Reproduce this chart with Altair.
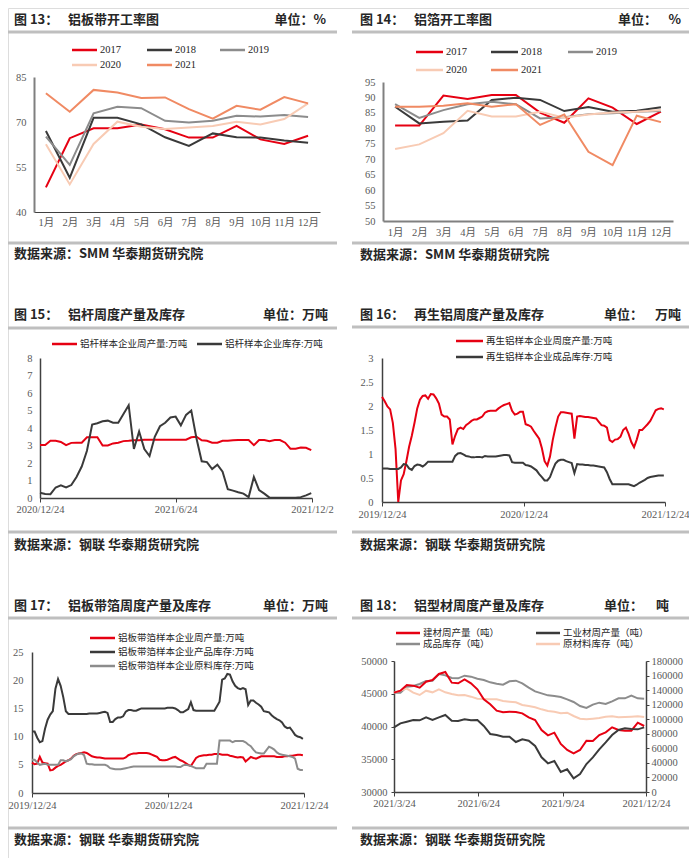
import altair as alt
import pandas as pd

# ---------------- data ----------------
months = list(range(1, 13))
years = ["2017", "2018", "2019", "2020", "2021"]

p13_2017 = [48.2, 64.6, 67.9, 67.9, 69.2, 67.6, 64.8, 64.8, 68.7, 64.2, 62.7, 65.4]
p13_2018 = [67.0, 51.4, 71.4, 71.4, 69.2, 64.9, 62.0, 66.2, 64.9, 64.8, 63.8, 63.1]
p13_2019 = [65.1, 55.7, 72.9, 75.1, 74.6, 70.4, 69.8, 70.4, 72.1, 71.8, 72.3, 71.7]
p13_2020 = [62.6, 49.2, 62.7, 70.1, 68.4, 67.7, 68.2, 68.7, 70.1, 69.2, 71.0, 76.2]
p13_2021 = [79.6, 73.4, 80.7, 79.8, 78.0, 78.2, 74.3, 71.1, 75.4, 74.1, 78.3, 76.2]

p14_2017 = [80.9, 80.9, 90.6, 89.5, 90.8, 90.8, 85.1, 81.8, 89.7, 86.7, 81.4, 85.4]
p14_2018 = [87.0, 81.6, 82.1, 82.5, 89.2, 89.9, 89.2, 85.6, 86.9, 85.4, 85.7, 86.8]
p14_2019 = [87.8, 83.4, 85.9, 87.8, 88.6, 87.8, 83.2, 83.6, 84.6, 84.9, 85.4, 85.6]
p14_2020 = [73.3, 74.8, 78.4, 85.7, 83.8, 83.8, 85.4, 83.4, 84.5, 85.1, 85.4, 85.9]
p14_2021 = [87.0, 87.0, 87.3, 88.1, 87.0, 87.8, 81.1, 84.5, 72.4, 68.1, 84.1, 82.0]

# 图15 weekly from 2020-12-24
p15_start = "2020-12-24"
p15_names = ["铝杆样本企业周产量:万吨", "铝杆样本企业库存:万吨"]
p15_prod = [3.03, 3.03, 3.27, 3.27, 3.2, 3.02, 3.15, 3.16, 3.16, 3.47,
            3.47, 3.47, 3.0, 3.0, 3.12, 3.16, 3.25, 3.27, 3.3, 3.3,
            3.33, 3.33, 3.33, 3.33, 3.33, 3.33, 3.33, 3.33, 3.33, 3.47,
            3.5, 3.3, 3.27, 3.16, 3.16, 3.27, 3.27, 3.3, 3.31, 3.31,
            3.31, 3.02, 3.31, 3.31, 3.25, 3.31, 3.31, 3.16, 2.82, 2.82,
            2.88, 2.87, 2.74]
p15_inv = [0.30, 0.23, 0.22, 0.60, 0.72, 0.60, 0.74, 1.2, 1.8, 2.7,
           4.2, 4.27, 4.38, 4.42, 4.30, 4.30, 4.8, 5.3, 2.8, 3.8,
           2.8, 2.4, 3.5, 4.1, 4.3, 4.6, 4.65, 4.15, 4.75, 5.0,
           3.4, 2.1, 2.05, 1.65, 1.9, 1.5, 0.5, 0.42, 0.33, 0.25,
           0.05, 1.2, 0.45, 0.25, 0.02, 0.02, 0.02, 0.02, 0.02, 0.02,
           0.05, 0.15, 0.28]

# 图16 weekly from 2019-12-24
p16_start = "2019-12-24"
p16_names = ["再生铝样本企业周度产量:万吨", "再生铝样本企业成品库存:万吨"]
p16_prod = [2.19, 2.10, 1.99, 1.93, 1.65, 1.10, 0.0, 0.45, 0.58, 0.85,
            1.15, 1.38, 1.65, 1.95, 2.13, 2.21, 2.22, 2.15, 2.25, 2.24,
            2.16, 2.05, 1.82, 1.78, 1.78, 1.72, 1.20, 1.38, 1.52, 1.55,
            1.52, 1.60, 1.64, 1.69, 1.72, 1.72, 1.75, 1.78, 1.86, 1.89,
            1.90, 1.90, 1.90, 1.95, 1.99, 2.02, 2.04, 2.06, 1.90, 1.82,
            1.84, 1.88, 1.88, 1.62, 1.60, 1.57, 1.48, 1.40, 1.32, 1.12,
            0.85, 0.76, 0.95, 1.29, 1.55, 1.78, 1.87, 1.87, 1.86, 1.85,
            1.84, 1.32, 1.78, 1.79, 1.78, 1.77, 1.77, 1.76, 1.75, 1.74,
            1.67, 1.60, 1.59, 1.55, 1.29, 1.25, 1.30, 1.31, 1.36, 1.50,
            1.55, 1.42, 1.25, 1.14, 1.30, 1.50, 1.50, 1.56, 1.62, 1.69,
            1.80, 1.91, 1.94, 1.95, 1.93]
p16_inv = [0.70, 0.70, 0.70, 0.69, 0.69, 0.69, 0.69, 0.72, 0.79, 0.78,
           0.70, 0.67, 0.75, 0.78, 0.77, 0.74, 0.78, 0.84, 0.84, 0.84,
           0.84, 0.84, 0.84, 0.84, 0.84, 0.84, 0.84, 0.96, 1.01, 1.02,
           0.99, 0.96, 0.95, 0.93, 0.93, 0.94, 0.94, 0.93, 0.96, 0.95,
           0.95, 0.95, 0.95, 0.96, 0.97, 0.98, 0.98, 0.97, 0.83, 0.82,
           0.82, 0.82, 0.82, 0.77, 0.76, 0.74, 0.70, 0.66, 0.58, 0.52,
           0.45, 0.45, 0.52, 0.67, 0.80, 0.86, 0.88, 0.88, 0.85, 0.83,
           0.81, 0.60, 0.79, 0.78, 0.78, 0.77, 0.77, 0.76, 0.76, 0.75,
           0.74, 0.73, 0.72, 0.62, 0.48, 0.37, 0.37, 0.37, 0.37, 0.37,
           0.37, 0.37, 0.35, 0.33, 0.36, 0.40, 0.43, 0.46, 0.50, 0.52,
           0.53, 0.54, 0.55, 0.55, 0.55]

# 图17 weekly from 2019-12-24
p17_start = "2019-12-24"
p17_names = ["铝板带箔样本企业周产量:万吨", "铝板带箔样本企业产品库存:万吨", "铝板带箔样本企业原料库存:万吨"]
p17_prod = [5.4, 5.1, 5.2, 6.4, 5.4, 5.3, 5.2, 4.0, 4.1, 4.5,
            4.8, 5.0, 5.3, 5.6, 5.8, 6.1, 6.6, 6.9, 7.0, 7.1,
            7.2, 7.1, 6.8, 6.5, 6.4, 6.3, 6.3, 6.2, 6.1, 6.1,
            6.1, 6.1, 6.1, 6.1, 6.1, 6.1, 6.3, 6.7, 6.9, 7.0,
            7.0, 7.1, 7.1, 7.1, 7.1, 7.0, 6.8, 6.6, 6.4, 5.9,
            5.8, 5.8, 5.9, 6.1, 6.3, 6.4, 6.1, 5.8, 5.6, 5.3,
            5.0, 4.8, 5.5, 6.2, 6.5, 6.6, 6.7, 6.7, 6.8, 6.8,
            6.9, 6.9, 6.9, 6.8, 6.8, 6.8, 6.6, 6.5, 6.4, 6.3,
            6.4, 6.3, 5.6, 6.0, 6.4, 6.2, 6.1, 6.3, 6.5, 6.5,
            6.5, 6.5, 6.5, 6.5, 6.4, 6.4, 6.4, 6.5, 6.5, 6.6,
            6.6, 6.7, 6.8, 6.8, 6.7]
p17_prodinv = [10.9, 10.9, 9.8, 9.0, 9.2, 11.4, 13.0, 13.9, 14.5, 18.5,
               20.2, 19.0, 17.0, 14.5, 14.0, 14.0, 14.0, 14.0, 14.0, 14.0,
               14.0, 14.0, 14.1, 14.1, 14.1, 14.1, 14.2, 14.3, 14.4, 14.2,
               12.6, 12.6, 13.1, 13.4, 13.4, 13.6, 14.4, 14.7, 14.7, 14.6,
               14.6, 14.8, 15.0, 15.0, 15.0, 15.0, 15.0, 15.0, 15.0, 15.0,
               15.0, 15.0, 15.1, 15.1, 15.1, 15.0, 14.7, 14.3, 14.3, 14.6,
               14.9, 16.1, 14.7, 14.6, 14.6, 14.6, 14.6, 14.6, 14.6, 14.6,
               14.6, 15.4, 16.2, 20.1, 20.3, 21.1, 21.0, 19.8, 19.0, 18.6,
               18.4, 18.6, 18.4, 15.6, 16.4, 16.4, 16.0, 15.7, 15.3, 14.5,
               14.4, 14.3, 13.8, 13.4, 13.1, 12.9, 12.5, 11.8, 11.5, 11.6,
               11.0, 10.3, 10.0, 9.9, 9.6]
p17_rawinv = [5.9, 5.9, 5.4, 5.0, 5.1, 5.2, 5.0, 5.0, 5.0, 5.0,
              5.0, 5.8, 5.8, 5.6, 5.8, 6.0, 6.5, 6.8, 7.0, 7.0,
              6.7, 5.2, 5.1, 5.1, 5.0, 5.0, 5.0, 5.0, 5.0, 4.8,
              4.4, 4.3, 4.2, 4.2, 4.2, 4.3, 4.4, 4.5, 4.6, 4.7,
              4.7, 4.7, 4.7, 4.7, 4.7, 4.7, 4.7, 4.7, 4.7, 4.7,
              4.7, 4.7, 4.7, 4.7, 4.7, 4.7, 4.6, 4.6, 4.9, 5.0,
              4.9, 4.8, 4.6, 4.4, 4.4, 4.4, 4.4, 5.2, 5.2, 5.2,
              5.2, 5.2, 9.3, 9.3, 9.3, 9.3, 9.3, 9.0, 9.2, 9.2,
              9.2, 9.2, 9.0, 8.6, 8.3, 7.7, 7.2, 7.1, 7.0, 7.0,
              7.6, 8.2, 8.0, 7.7, 7.2, 6.9, 6.8, 6.7, 6.6, 6.5,
              6.4, 6.1, 4.3, 4.1, 4.1]

# 图18 weekly from 2021-03-24
p18_start = "2021-03-24"
p18_left_names = ["建材周产量（吨）", "工业材周产量（吨）"]
p18_right_names = ["成品库存（吨）", "原材料库存（吨）"]
p18_jc = [45165, 45470, 46336, 46234, 45929, 46845, 47099, 48015, 48320, 46692,
          46590, 47201, 46590, 45674, 44147, 43384, 42417, 42163, 42265, 42214,
          42010, 41400, 40993, 39466, 38652, 39059, 37329, 36413, 35904, 36413,
          37838, 37787, 38703, 39110, 39873, 39466, 39364, 39364, 40586, 40077]
p18_gy = [39873, 40484, 40739, 40993, 40942, 41400, 40993, 41400, 41756, 40891,
          40840, 41095, 40942, 40993, 40077, 38856, 38703, 38448, 38448, 37634,
          38041, 37838, 37024, 35293, 34377, 34733, 33054, 33461, 32087, 32749,
          34275, 35293, 36515, 37583, 38703, 39466, 39720, 39619, 39568, 39873]
p18_cp = [136485, 136485, 144730, 145646, 148394, 152516, 152974, 162134, 160302, 156638,
          156180, 159844, 158470, 155722, 153890, 150684, 148852, 147478, 152058, 152974,
          149310, 143356, 138318, 135570, 132822, 131906, 130532, 127326, 123662, 118166,
          115418, 119998, 122746, 120914, 124578, 128700, 128700, 132364, 128700, 128242]
p18_yl = [136485, 139233, 141981, 136485, 133279, 139233, 136943, 141065, 136943, 134653,
          132822, 133279, 130990, 128242, 127784, 127326, 127326, 125036, 124120, 123204,
          119540, 118166, 116334, 113586, 111296, 110380, 108090, 109006, 104426, 100762,
          99846, 100762, 101678, 103510, 103968, 102594, 103052, 103510, 103968, 103052]

# ---------------- styling ----------------
W, H = 681, 850
M = 8


def X(v):
    return v - M


def Y(v):
    return v - M


CJK = "Noto Sans CJK SC"
MIX = "Liberation Serif, Noto Sans CJK SC"
SERIF = "Liberation Serif"

RED = "#E60012"
DARK = "#3A3A3A"
GRAY = "#8C8C8C"
PEACH = "#F8CBB4"
ORANGE = "#F08A63"
RULEC = "#BFBFBF"
TXT = "#262626"
LBL = "#595959"

ONE = alt.Data(values=[{}])
layers = []


def txt(s, x, y, size=13, font=CJK, color=TXT, weight="normal", align="left"):
    layers.append(
        alt.Chart(ONE)
        .mark_text(align=align, baseline="middle", font=font, fontSize=size,
                   color=color, fontWeight=weight)
        .encode(x=alt.value(X(x)), y=alt.value(Y(y)), text=alt.value(s))
    )


def hrule(x1, x2, y, color=RULEC, width=3):
    layers.append(
        alt.Chart(ONE)
        .mark_rule(color=color, strokeWidth=width)
        .encode(x=alt.value(X(x1)), x2=alt.value(X(x2)), y=alt.value(Y(y)))
    )


def legend_item(x1, x2, y, color, label, size=9.5, font=MIX):
    hrule(x1, x2, y, color=color, width=2.5)
    txt(label, x2 + 3, y, size=size, font=font, color=TXT)


def header(left, title, unit_parts, y, rule_y, x0, x1):
    txt(left, x0 + 8, y, size=13, weight="bold")
    txt(title, x0 + 62, y, size=13, weight="bold")
    for s, xr in unit_parts:
        txt(s, xr, y, size=13, weight="bold", align="right")
    hrule(x0, x1, rule_y)


def footer(rule_y, text_y, x0, x1, src):
    hrule(x0, x1, rule_y)
    txt(src, x0 + 8, text_y, size=13, weight="bold")


AX = dict(title=None, grid=False, labelFont=SERIF, labelFontSize=10.5,
          labelColor=LBL, labelFlush=False, labelOverlap=False)


def xaxis_bottom(ypx, **kw):
    d = dict(AX)
    d.update(kw)
    return alt.Axis(orient="bottom", offset=Y(ypx) - H, **d)


def yaxis_left(xpx, **kw):
    d = dict(AX)
    d.update(kw)
    return alt.Axis(orient="left", offset=-X(xpx), **d)


def yaxis_right(xpx, **kw):
    d = dict(AX)
    d.update(kw)
    return alt.Axis(orient="right", offset=X(xpx) - W, **d)


def long_monthly(arrays):
    frames = []
    for nm, arr in zip(years, arrays):
        frames.append(pd.DataFrame({"month": months, "series": nm, "value": arr}))
    return pd.concat(frames, ignore_index=True)


def long_weekly(start, names, arrays):
    dates = pd.date_range(start, periods=len(arrays[0]), freq="7D")
    frames = []
    for nm, arr in zip(names, arrays):
        frames.append(pd.DataFrame({"date": dates, "series": nm, "value": arr}))
    return pd.concat(frames, ignore_index=True)


def dt(y, m, d):
    return alt.DateTime(year=y, month=m, date=d)


year_colors = [RED, DARK, GRAY, PEACH, ORANGE]

# ---------------- 图13 ----------------
header("图 13：", "铝板带开工率图", [("单位：%", 326)], 20, 32, 6, 337)
for (x1, x2, yy, c, lab) in [(72, 97, 50, RED, "2017"), (147, 172, 50, DARK, "2018"),
                             (220, 245, 50, GRAY, "2019"), (72, 97, 65, PEACH, "2020"),
                             (147, 172, 65, ORANGE, "2021")]:
    legend_item(x1, x2, yy, c, lab, size=10.5, font=SERIF)
df13 = long_monthly([p13_2017, p13_2018, p13_2019, p13_2020, p13_2021])
layers.append(
    alt.Chart(df13).mark_line(strokeWidth=2).encode(
        x=alt.X("month:Q", scale=alt.Scale(domain=[0.5, 12.5], range=[X(34), X(320)], nice=False, zero=False),
                axis=xaxis_bottom(212, values=months, labelExpr="datum.value + '月'", labelFont=MIX,
                                  ticks=False, domainColor="#404040", domainWidth=1, labelPadding=5)),
        y=alt.Y("value:Q", scale=alt.Scale(domain=[40, 85], range=[Y(212), Y(77)], nice=False, zero=False),
                axis=yaxis_left(34, values=[40, 55, 70, 85], ticks=False, domainColor="#7F7F7F",
                                domainWidth=2, labelPadding=8)),
        color=alt.Color("series:N", scale=alt.Scale(domain=years, range=year_colors), legend=None),
    )
)
footer(243, 254, 6, 337, "数据来源：SMM  华泰期货研究院")

# ---------------- 图14 ----------------
header("图 14：", "铝箔开工率图", [("单位：", 657), ("%", 681)], 20, 32, 352, 693)
for (x1, x2, yy, c, lab) in [(416, 443, 52, RED, "2017"), (491, 518, 52, DARK, "2018"),
                             (568, 593, 52, GRAY, "2019"), (416, 443, 70, PEACH, "2020"),
                             (491, 518, 70, ORANGE, "2021")]:
    legend_item(x1, x2, yy, c, lab, size=10.5, font=SERIF)
df14 = long_monthly([p14_2017, p14_2018, p14_2019, p14_2020, p14_2021])
layers.append(
    alt.Chart(df14).mark_line(strokeWidth=2).encode(
        x=alt.X("month:Q", scale=alt.Scale(domain=[0.5, 12.5], range=[X(383), X(673)], nice=False, zero=False),
                axis=xaxis_bottom(221, values=months, labelExpr="datum.value + '月'", labelFont=MIX,
                                  ticks=False, domainColor="#808080", domainWidth=2, labelPadding=6)),
        y=alt.Y("value:Q", scale=alt.Scale(domain=[50, 95], range=[Y(221), Y(82)], nice=False, zero=False),
                axis=yaxis_left(383, values=list(range(50, 96, 5)), ticks=False, domainColor="#808080",
                                domainWidth=2, labelPadding=8)),
        color=alt.Color("series:N", scale=alt.Scale(domain=years, range=year_colors), legend=None),
    )
)
footer(243, 255, 352, 693, "数据来源：SMM  华泰期货研究院")

# ---------------- 图15 ----------------
header("图 15：", "铝杆周度产量及库存", [("单位：万吨", 328)], 315, 328, 6, 337)
legend_item(52, 77, 344, RED, p15_names[0])
legend_item(197, 222, 344, DARK, p15_names[1])
df15 = long_weekly(p15_start, p15_names, [p15_prod, p15_inv])
layers.append(
    alt.Chart(df15).mark_line(strokeWidth=2).encode(
        x=alt.X("date:T", scale=alt.Scale(domain=[dt(2020, 12, 24), dt(2021, 12, 24)], range=[X(40), X(312)]),
                axis=xaxis_bottom(498, values=[dt(2020, 12, 24), dt(2021, 6, 24), dt(2021, 12, 24)],
                                  labelExpr="timeFormat(datum.value, '%Y/%-m/%-d') == '2021/12/24' ? '2021/12/2' : timeFormat(datum.value, '%Y/%-m/%-d')",
                                  ticks=True, tickSize=4, tickColor="#404040", domainColor="#404040",
                                  domainWidth=1.5, labelPadding=2)),
        y=alt.Y("value:Q", scale=alt.Scale(domain=[0, 8], range=[Y(498), Y(358)], nice=False),
                axis=yaxis_left(40, values=list(range(0, 9)), ticks=False, domainColor="#404040",
                                domainWidth=1.5, labelPadding=8)),
        color=alt.Color("series:N", scale=alt.Scale(domain=p15_names, range=[RED, DARK]), legend=None),
    )
)
footer(532, 545, 6, 337, "数据来源：钢联  华泰期货研究院")

# ---------------- 图16 ----------------
header("图 16：", "再生铝周度产量及库存", [("单位：", 643), ("万吨", 681)], 315, 327, 352, 693)
legend_item(456, 483, 341, RED, p16_names[0])
legend_item(456, 483, 357, DARK, p16_names[1])
df16 = long_weekly(p16_start, p16_names, [p16_prod, p16_inv])
layers.append(
    alt.Chart(df16).mark_line(strokeWidth=2).encode(
        x=alt.X("date:T", scale=alt.Scale(domain=[dt(2019, 12, 24), dt(2021, 12, 24)], range=[X(382), X(665)]),
                axis=xaxis_bottom(502, values=[dt(2019, 12, 24), dt(2020, 12, 24), dt(2021, 12, 24)],
                                  format="%Y/%-m/%-d", ticks=True, tickSize=4, tickColor="#404040",
                                  domainColor="#404040", domainWidth=1.5, labelPadding=3)),
        y=alt.Y("value:Q", scale=alt.Scale(domain=[0, 3], range=[Y(502), Y(358)], nice=False),
                axis=yaxis_left(382, values=[0, 0.5, 1, 1.5, 2, 2.5, 3], format="~g", ticks=False,
                                domainColor="#404040", domainWidth=1.5, labelPadding=9)),
        color=alt.Color("series:N", scale=alt.Scale(domain=p16_names, range=[RED, DARK]), legend=None),
    )
)
footer(532, 545, 352, 693, "数据来源：钢联  华泰期货研究院")

# ---------------- 图17 ----------------
header("图 17：", "铝板带箔周度产量及库存", [("单位：万吨", 328)], 606, 618, 6, 337)
legend_item(90, 115, 638, RED, p17_names[0])
legend_item(90, 115, 652, DARK, p17_names[1])
legend_item(90, 115, 666, GRAY, p17_names[2])
df17 = long_weekly(p17_start, p17_names, [p17_prod, p17_prodinv, p17_rawinv])
layers.append(
    alt.Chart(df17).mark_line(strokeWidth=2).encode(
        x=alt.X("date:T", scale=alt.Scale(domain=[dt(2019, 12, 24), dt(2021, 12, 24)], range=[X(32), X(304)]),
                axis=xaxis_bottom(793, values=[dt(2019, 12, 24), dt(2020, 12, 24), dt(2021, 12, 24)],
                                  format="%Y/%-m/%-d", ticks=True, tickSize=4, tickColor="#404040",
                                  domainColor="#404040", domainWidth=1.5, labelPadding=3)),
        y=alt.Y("value:Q", scale=alt.Scale(domain=[0, 25], range=[Y(793), Y(652)], nice=False),
                axis=yaxis_left(32, values=[0, 5, 10, 15, 20, 25], ticks=False,
                                domainColor="#404040", domainWidth=1.5, labelPadding=9)),
        color=alt.Color("series:N", scale=alt.Scale(domain=p17_names, range=[RED, DARK, GRAY]), legend=None),
    )
)
footer(828, 840, 6, 337, "数据来源：钢联  华泰期货研究院")

# ---------------- 图18 ----------------
header("图 18：", "铝型材周度产量及库存", [("单位：", 643), ("吨", 669)], 606, 618, 352, 693)
legend_item(396, 420, 633, RED, p18_left_names[0])
legend_item(536, 560, 633, DARK, p18_left_names[1])
legend_item(396, 420, 644, GRAY, p18_right_names[0])
legend_item(536, 560, 644, PEACH, p18_right_names[1])
df18L = long_weekly(p18_start, p18_left_names, [p18_jc, p18_gy])
df18R = long_weekly(p18_start, p18_right_names, [p18_cp, p18_yl])
x18_scale = alt.Scale(domain=[dt(2021, 3, 24), dt(2021, 12, 24)], range=[X(394), X(646)])
layers.append(
    alt.Chart(df18R).mark_line(strokeWidth=2).encode(
        x=alt.X("date:T", scale=x18_scale, axis=None),
        y=alt.Y("value:Q", scale=alt.Scale(domain=[0, 180000], range=[Y(792), Y(661)], nice=False),
                axis=yaxis_right(646, values=list(range(0, 180001, 20000)), format="d", ticks=True,
                                 tickSize=3, tickColor="#404040", domainColor="#404040",
                                 domainWidth=1.5, labelPadding=2)),
        color=alt.Color("series:N", scale=alt.Scale(domain=p18_right_names, range=[GRAY, PEACH]), legend=None),
    )
)
layers.append(
    alt.Chart(df18L).mark_line(strokeWidth=2).encode(
        x=alt.X("date:T", scale=x18_scale,
                axis=xaxis_bottom(792, values=[dt(2021, 3, 24), dt(2021, 6, 24), dt(2021, 9, 24), dt(2021, 12, 24)],
                                  format="%Y/%-m/%-d", ticks=True, tickSize=4, tickColor="#404040",
                                  domainColor="#404040", domainWidth=1.5, labelPadding=2)),
        y=alt.Y("value:Q", scale=alt.Scale(domain=[30000, 50000], range=[Y(792), Y(661)], nice=False, zero=False),
                axis=yaxis_left(394, values=list(range(30000, 50001, 5000)), format="d", ticks=True,
                                tickSize=3, tickColor="#404040", domainColor="#404040",
                                domainWidth=1.5, labelPadding=4)),
        color=alt.Color("series:N", scale=alt.Scale(domain=p18_left_names, range=[RED, DARK]), legend=None),
    )
)
footer(828, 840, 352, 693, "数据来源：钢联  华泰期货研究院")

chart = (
    alt.layer(*layers)
    .resolve_scale(x="independent", y="independent", color="independent")
    .resolve_axis(x="independent", y="independent")
    .properties(width=W, height=H, autosize=alt.AutoSizeParams(type="none"), padding=0)
    .configure_view(strokeWidth=0)
    .configure(background="white")
)

chart.save("out.html", embed_options={"renderer": "svg", "actions": False})
